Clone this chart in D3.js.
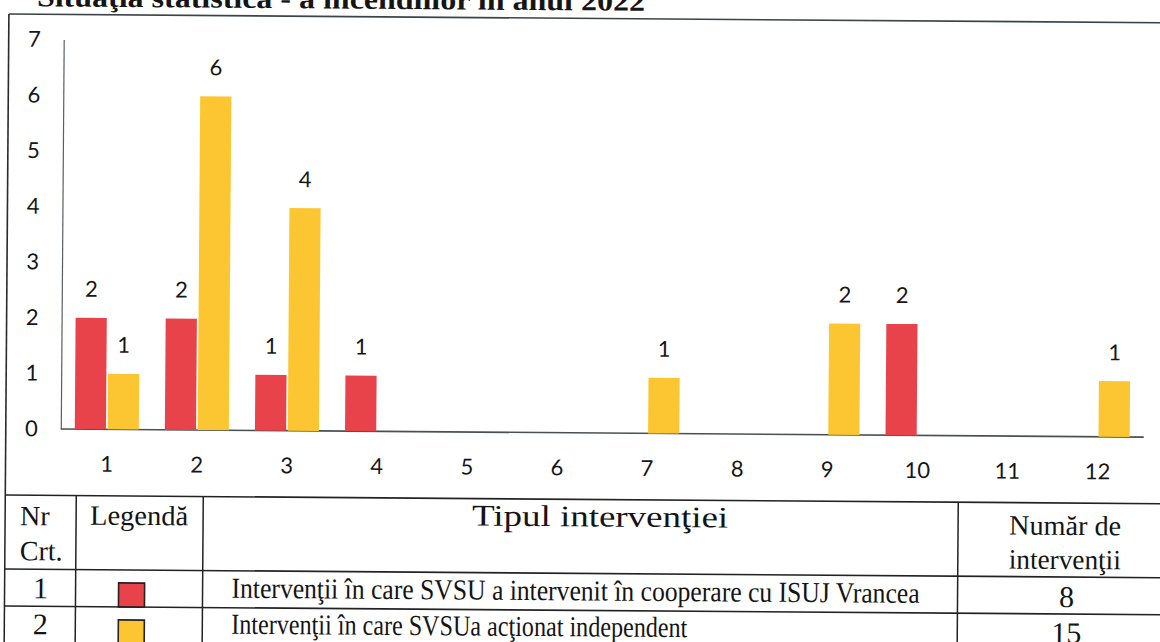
<!DOCTYPE html>
<html lang="ro">
<head>
    <meta charset="UTF-8">
    <script src="https://d3js.org/d3.v7.min.js"></script>
    <title>Situaţia statistică a incendiilor 2022</title>
    <style>
        body { margin: 0; background: #fff; }
        svg { display: block; }
        .tick text { font-family: Lato, "Open Sans", sans-serif; font-size: 22px; fill: #151515; }
        .tbl { font-family: "Liberation Serif", "Times New Roman", serif; fill: #141414; }
    </style>
</head>
<body>
<script>
    // ---------------- data ----------------
    const categories = ["1", "2", "3", "4", "5", "6", "7", "8", "9", "10", "11", "12"];
    const seriesKeys = ["cooperare", "independent"];
    const cooperareValues = [2, 2, 1, 1, 0, 0, 0, 0, 0, 2, 0, 0];
    const independentValues = [1, 6, 4, 0, 0, 0, 1, 0, 2, 0, 0, 1];
    const yTicks = [0, 1, 2, 3, 4, 5, 6, 7];

    const titleText = "Situaţia statistică - a incendiilor în anul 2022";
    const headerNr = ["Nr", "Crt."];
    const headerLegend = "Legendă";
    const headerType = "Tipul intervenţiei";
    const headerCount = ["Număr de", "intervenţii"];
    const rowNr = ["1", "2"];
    const rowText = [
        "Intervenţii în care SVSU a intervenit în cooperare cu ISUJ Vrancea",
        "Intervenţii în care SVSUa acţionat  independent"
    ];
    const rowCount = ["8", "15"];

    const colors = { cooperare: "#e8434b", independent: "#fcc633" };

    // ---------------- setup ----------------
    const W = 1160, H = 642;
    const svg = d3.select("body").append("svg")
        .attr("width", W)
        .attr("height", H);

    // the scanned page is slightly tilted
    const page = svg.append("g").attr("transform", "rotate(0.43)");

    const data = categories.map((c, i) => ({
        cat: c,
        cooperare: cooperareValues[i],
        independent: independentValues[i]
    }));

    const x0 = d3.scaleBand().domain(categories).range([65, 1146]).padding(0);
    const x1 = d3.scaleBand().domain(seriesKeys).range([13, 77]).paddingInner(0.05);
    const y = d3.scaleLinear().domain([0, 7]).range([428.5, 39]);

    // title (cut at the top of the scan)
    page.append("text")
        .attr("x", 37)
        .attr("y", 6)
        .attr("textLength", 608)
        .attr("lengthAdjust", "spacingAndGlyphs")
        .style("font-family", "'Liberation Serif', serif")
        .style("font-weight", "bold")
        .style("font-size", "28px")
        .style("fill", "#151515")
        .text(titleText);

    // chart frame
    page.append("line").attr("x1", 9).attr("x2", 1175).attr("y1", 14).attr("y2", 14)
        .attr("stroke", "#3a4448").attr("stroke-width", 1.6);
    page.append("line").attr("x1", 9).attr("x2", 9).attr("y1", 14).attr("y2", 495)
        .attr("stroke", "#2a2a2a").attr("stroke-width", 1.6);

    // axes
    const yAxis = d3.axisLeft(y).tickValues(yTicks).tickFormat(d3.format("d")).tickSize(0).tickPadding(23);
    const gy = page.append("g").attr("transform", "translate(64,0)").call(yAxis);
    gy.select(".domain").attr("stroke", "#5a5f62").attr("stroke-width", 1.2);

    const xAxis = d3.axisBottom(x0).tickSize(0).tickPadding(27);
    const gx = page.append("g").attr("transform", `translate(0,${y(0)})`).call(xAxis);
    gx.select(".domain").attr("d", "M64,0H1147").attr("stroke", "#4a5052").attr("stroke-width", 1.6);

    // bars
    const groups = page.selectAll(".grp")
        .data(data)
        .enter().append("g")
        .attr("class", "grp")
        .attr("transform", d => `translate(${x0(d.cat)},0)`);

    const barData = d => seriesKeys.map(k => ({ key: k, value: d[k] })).filter(b => b.value > 0);

    groups.selectAll("rect")
        .data(barData)
        .enter().append("rect")
        .attr("x", b => x1(b.key))
        .attr("width", x1.bandwidth())
        .attr("y", b => y(b.value))
        .attr("height", b => y(0) - y(b.value))
        .attr("fill", b => colors[b.key]);

    groups.selectAll(".lbl")
        .data(barData)
        .enter().append("text")
        .attr("class", "lbl")
        .attr("x", b => x1(b.key) + x1.bandwidth() / 2)
        .attr("y", b => y(b.value) - 21)
        .attr("text-anchor", "middle")
        .style("font-family", "Lato, 'Open Sans', sans-serif")
        .style("font-size", "22px")
        .style("fill", "#151515")
        .text(b => b.value);

    // ---------------- table ----------------
    const cols = [9, 80, 207, 962, 1178];
    const rows = [495, 569, 606, 643];
    const tbl = page.append("g");

    rows.forEach(r => {
        tbl.append("line").attr("x1", cols[0]).attr("x2", 1178).attr("y1", r).attr("y2", r)
            .attr("stroke", "#222").attr("stroke-width", 1.6);
    });
    cols.forEach(c => {
        tbl.append("line").attr("x1", c).attr("x2", c).attr("y1", rows[0]).attr("y2", 650)
            .attr("stroke", "#222").attr("stroke-width", 1.5);
    });

    const txt = (x, yy, s, size, anchor, len) => {
        const t = tbl.append("text")
            .attr("class", "tbl")
            .attr("x", x).attr("y", yy)
            .attr("text-anchor", anchor)
            .style("font-size", size + "px")
            .text(s);
        if (len) t.attr("textLength", len).attr("lengthAdjust", "spacingAndGlyphs");
        return t;
    };

    txt(24, 525, headerNr[0], 28, "start");
    txt(24, 560, headerNr[1], 28, "start");
    txt(94, 524, headerLegend, 28, "start", 98);
    txt(604, 522, headerType, 30, "middle", 256);
    txt(1069, 527, headerCount[0], 28, "middle", 112);
    txt(1069, 561, headerCount[1], 28, "middle", 112);

    const rowBase = [597, 633];
    rowNr.forEach((s, i) => txt(45, rowBase[i] + 1, s, 30, "middle"));
    rowText.forEach((s, i) => txt(236, rowBase[i] - 1, s, 29, "start", i === 0 ? 688 : 456));
    rowCount.forEach((s, i) => txt(1071, rowBase[i] + 2, s, 30, "middle"));

    // legend squares
    tbl.selectAll(".leg")
        .data(seriesKeys)
        .enter().append("rect")
        .attr("class", "leg")
        .attr("x", 123)
        .attr("y", (k, i) => [582, 619][i])
        .attr("width", 26)
        .attr("height", 24)
        .attr("fill", k => colors[k])
        .attr("stroke", "#2a2020")
        .attr("stroke-width", 1.6);
</script>
</body>
</html>
